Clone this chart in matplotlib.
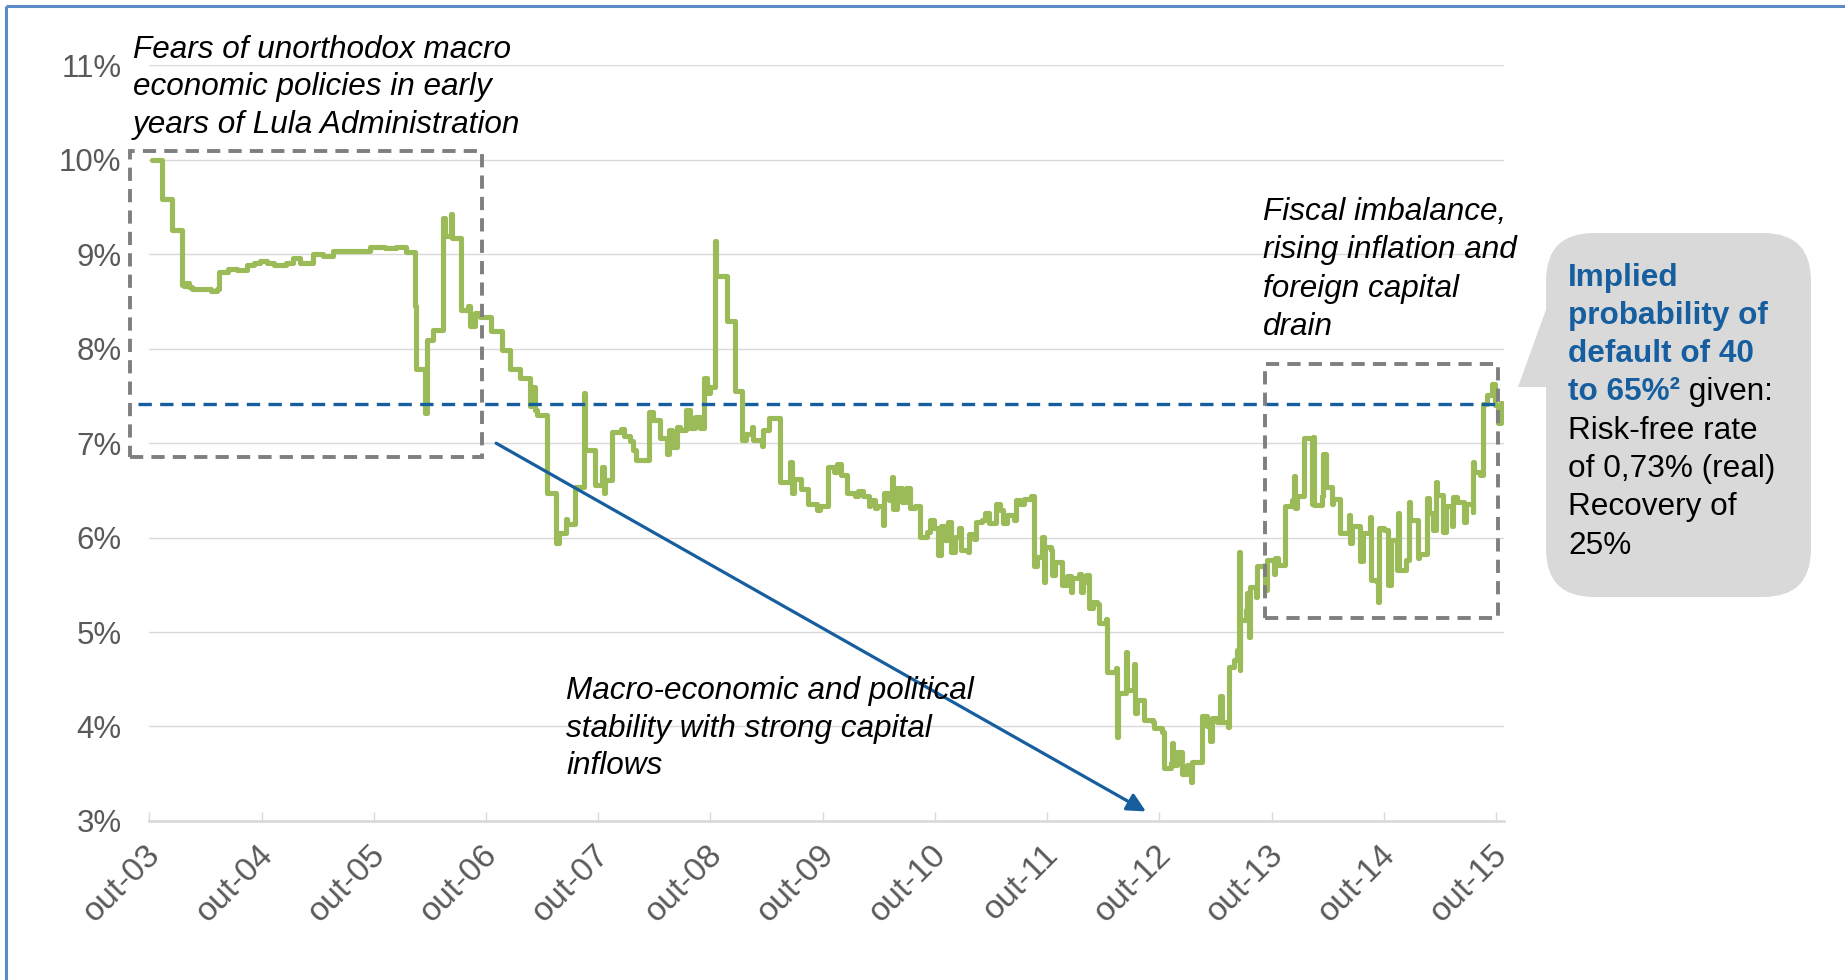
import matplotlib
matplotlib.use("Agg")
import matplotlib.pyplot as plt
import matplotlib.transforms as mtransforms
from matplotlib.patches import FancyBboxPatch, Polygon, Rectangle

plt.rcParams['font.family'] = ['Liberation Sans', 'DejaVu Sans']

# ---------------- data ----------------
tick_labels = ["out-03", "out-04", "out-05", "out-06", "out-07", "out-08", "out-09",
               "out-10", "out-11", "out-12", "out-13", "out-14", "out-15"]
tick_years = list(range(13))          # years since Oct-2003
y_ticks = [3, 4, 5, 6, 7, 8, 9, 10, 11]

# years since Oct-2003 (change points of the step series)
t_years = [
    0.02, 0.11, 0.20, 0.29, 0.31, 0.33, 0.35, 0.38, 0.55, 0.60, 0.62, 0.70, 0.78, 0.87, 0.93,
    0.99, 1.05, 1.11, 1.22, 1.28, 1.34, 1.46, 1.55, 1.64, 1.80, 1.97, 2.10, 2.20, 2.29, 2.37,
    2.375, 2.46, 2.47, 2.53, 2.62, 2.635, 2.69, 2.70, 2.78, 2.84, 2.86, 2.90, 2.95, 3.04, 3.14,
    3.21, 3.30, 3.39, 3.40, 3.44, 3.45, 3.54, 3.62, 3.65, 3.71, 3.72, 3.79, 3.87, 3.88, 3.97,
    4.03, 4.05, 4.06, 4.12, 4.20, 4.23, 4.28, 4.31, 4.34, 4.45, 4.49, 4.55, 4.61, 4.63, 4.66,
    4.70, 4.73, 4.78, 4.82, 4.86, 4.91, 4.94, 4.97, 5.00, 5.04, 5.05, 5.15, 5.22, 5.28, 5.32,
    5.37, 5.38, 5.46, 5.47, 5.52, 5.62, 5.71, 5.73, 5.74, 5.81, 5.87, 5.95, 5.98, 6.05, 6.10,
    6.13, 6.16, 6.22, 6.29, 6.31, 6.36, 6.41, 6.42, 6.47, 6.48, 6.54, 6.55, 6.59, 6.62, 6.63,
    6.66, 6.71, 6.74, 6.78, 6.82, 6.87, 6.93, 6.96, 6.99, 7.03, 7.05, 7.09, 7.12, 7.14, 7.18,
    7.21, 7.23, 7.29, 7.30, 7.35, 7.37, 7.42, 7.45, 7.48, 7.54, 7.58, 7.61, 7.64, 7.70, 7.72,
    7.76, 7.79, 7.86, 7.88, 7.91, 7.95, 7.97, 7.98, 8.03, 8.04, 8.07, 8.13, 8.18, 8.21, 8.22,
    8.28, 8.30, 8.32, 8.35, 8.37, 8.41, 8.44, 8.46, 8.52, 8.53, 8.61, 8.62, 8.63, 8.70, 8.71,
    8.77, 8.78, 8.80, 8.86, 8.94, 8.95, 9.02, 9.04, 9.10, 9.11, 9.12, 9.16, 9.20, 9.25, 9.28,
    9.29, 9.38, 9.42, 9.45, 9.47, 9.51, 9.54, 9.56, 9.61, 9.62, 9.66, 9.69, 9.71, 9.715, 9.72,
    9.77, 9.78, 9.80, 9.81, 9.86, 9.87, 9.94, 9.96, 10.02, 10.03, 10.06, 10.12, 10.18, 10.20, 10.21,
    10.23, 10.29, 10.36, 10.37, 10.375, 10.45, 10.46, 10.48, 10.54, 10.55, 10.61, 10.69, 10.70, 10.72, 10.79,
    10.81, 10.88, 10.885, 10.94, 10.95, 10.955, 11.00, 11.04, 11.06, 11.12, 11.13, 11.135, 11.20, 11.22, 11.23,
    11.30, 11.31, 11.38, 11.40, 11.44, 11.46, 11.47, 11.53, 11.55, 11.61, 11.62, 11.65, 11.71, 11.73, 11.79,
    11.795, 11.80, 11.86, 11.88, 11.92, 11.96, 11.99, 12.02, 12.04, 12.05,
]
# real yield (%)
spread_pct = [
    10.00, 9.59, 9.26, 8.68, 8.66, 8.70, 8.65, 8.63, 8.61, 8.63, 8.81, 8.84, 8.83, 8.89, 8.91,
    8.93, 8.91, 8.89, 8.91, 8.96, 8.91, 9.00, 8.98, 9.04, 9.04, 9.08, 9.07, 9.08, 9.02, 8.45,
    7.79, 7.32, 8.09, 8.20, 9.39, 9.19, 9.43, 9.17, 8.41, 8.45, 8.24, 8.38, 8.34, 8.19, 7.99,
    7.79, 7.69, 7.39, 7.60, 7.35, 7.30, 6.47, 5.94, 6.05, 6.20, 6.14, 6.54, 7.53, 6.93, 6.56,
    6.75, 6.47, 6.61, 7.12, 7.15, 7.08, 7.02, 6.93, 6.82, 7.33, 7.25, 7.05, 6.89, 7.14, 6.96,
    7.17, 7.14, 7.35, 7.16, 7.28, 7.16, 7.69, 7.53, 7.60, 9.14, 8.77, 8.29, 7.55, 7.03, 7.10,
    7.17, 7.03, 6.97, 7.14, 7.27, 6.59, 6.80, 6.47, 6.62, 6.51, 6.36, 6.29, 6.34, 6.75, 6.70,
    6.78, 6.66, 6.47, 6.44, 6.49, 6.44, 6.33, 6.40, 6.31, 6.33, 6.13, 6.47, 6.40, 6.64, 6.30,
    6.53, 6.38, 6.53, 6.31, 6.33, 6.01, 6.06, 6.19, 6.10, 5.82, 6.12, 5.98, 6.17, 5.85, 6.01,
    6.10, 5.87, 5.85, 6.04, 5.99, 6.17, 6.19, 6.26, 6.15, 6.36, 6.29, 6.15, 6.24, 6.19, 6.40,
    6.36, 6.41, 6.44, 5.70, 5.80, 6.01, 5.53, 5.90, 5.87, 5.60, 5.74, 5.50, 5.59, 5.42, 5.57,
    5.62, 5.42, 5.53, 5.60, 5.25, 5.32, 5.30, 5.10, 5.14, 4.58, 4.62, 3.89, 4.35, 4.79, 4.39,
    4.66, 4.14, 4.28, 4.07, 4.05, 3.98, 3.94, 3.56, 3.61, 3.83, 3.59, 3.73, 3.50, 3.59, 3.41,
    3.62, 4.11, 4.00, 3.85, 4.09, 4.05, 4.32, 4.05, 3.99, 4.63, 4.70, 4.81, 5.85, 4.60, 5.13,
    5.23, 5.41, 4.95, 5.48, 5.37, 5.70, 5.45, 5.76, 5.62, 5.78, 5.71, 6.33, 6.40, 6.65, 6.31,
    6.44, 7.05, 6.36, 7.07, 6.35, 6.44, 6.89, 6.54, 6.36, 6.41, 6.05, 6.24, 5.94, 6.12, 5.75,
    6.05, 6.22, 5.55, 5.53, 5.32, 6.10, 6.08, 5.50, 5.97, 5.66, 6.26, 5.66, 5.76, 6.38, 6.19,
    5.78, 5.83, 6.42, 6.26, 6.08, 6.59, 6.45, 6.06, 6.33, 6.12, 6.43, 6.38, 6.17, 6.36, 6.27,
    6.80, 6.70, 6.66, 7.41, 7.51, 7.63, 7.40, 7.21, 7.43, 7.43,
]

threshold_pct = 7.42                     # implied-default threshold

# ---------------- styling ----------------
W, H = 1845, 980
GREEN = "#9BBB59"
BLUE = "#165E9E"
GRID = "#D9D9D9"
TXT = "#595959"
BOXC = "#7F7F7F"

fig = plt.figure(figsize=(W / 100, H / 100), dpi=100)

x_left_px, x_right_px = 149.3, 1504.0
y_top_px, y_bot_px = 65.5, 820.9
ax = fig.add_axes([x_left_px / W, (H - y_bot_px) / H,
                   (x_right_px - x_left_px) / W, (y_bot_px - y_top_px) / H])
ax.set_xlim(0, 12.07)
ax.set_ylim(3, 11)

ax.plot(t_years, spread_pct, drawstyle="steps-post", color=GREEN, lw=3.7,
        solid_joinstyle="round", solid_capstyle="round", zorder=4)

ax.hlines(threshold_pct, -0.1, 12.02, colors=BLUE, lw=2.4,
          linestyles=(0, (4.0, 2.5)), clip_on=False, zorder=5)

for (x0, x1, y0, y1) in [(-0.17, 2.96, 6.85, 10.09), (9.94, 12.02, 5.15, 7.84)]:
    ax.add_patch(Rectangle((x0, y0), x1 - x0, y1 - y0, fill=False, ec=BOXC, lw=2.8,
                           ls=(0, (3.4, 2.1)), clip_on=False, zorder=6))

ax.annotate("", xy=(8.88, 3.10), xytext=(3.09, 7.0),
            arrowprops=dict(arrowstyle="-|>", color=BLUE, lw=2.3, mutation_scale=28,
                            shrinkA=0, shrinkB=0), zorder=6)

ax.set_yticks(y_ticks)
ax.set_yticklabels([f"{v}%" for v in y_ticks])
ax.yaxis.grid(True, color=GRID, lw=1.0)
ax.set_axisbelow(True)
ax.tick_params(axis="y", length=0, pad=20, labelsize=22.5, labelcolor=TXT)

ax.set_xticks(tick_years)
ax.set_xticklabels(tick_labels)
ax.tick_params(axis="x", direction="in", length=6.5, width=1.0, color=GRID,
               pad=21, labelsize=24, labelcolor=TXT)
offset = mtransforms.ScaledTranslation(6.5 / 100, 0, fig.dpi_scale_trans)
for lbl in ax.get_xticklabels():
    lbl.set_rotation(45)
    lbl.set_ha("right")
    lbl.set_va("center")
    lbl.set_rotation_mode("anchor")
    lbl.set_transform(lbl.get_transform() + offset)

for s in ["top", "right", "left"]:
    ax.spines[s].set_visible(False)
ax.spines["bottom"].set_color(GRID)
ax.spines["bottom"].set_linewidth(1.9)

# ---------------- overlay (pixel coordinates) ----------------
ov = fig.add_axes([0, 0, 1, 1], zorder=5)
ov.set_xlim(0, W)
ov.set_ylim(H, 0)
ov.axis("off")
ov.patch.set_alpha(0)

ov.plot([6, 6], [H, 6], color="#5B8AC6", lw=2.2, solid_capstyle="butt")
ov.plot([6, W], [6, 6], color="#5B8AC6", lw=2.2, solid_capstyle="butt")

FS = 22.7
def block(x, y0, lines, step=38.0, **kw):
    for i, s in enumerate(lines):
        ov.text(x, y0 + i * step, s, ha="left", va="center", fontsize=FS, **kw)

block(133, 49.5, ["Fears of unorthodox macro", "economic policies in early",
                  "years of Lula Administration"], step=37.7, style="italic", color="black")
block(1262.6, 212, ["Fiscal imbalance,", "rising inflation and",
                    "foreign capital", "drain"], step=38.4, style="italic", color="black")
block(566, 691, ["Macro-economic and political", "stability with strong capital",
                 "inflows"], step=37.7, style="italic", color="black")

# callout bubble
ov.add_patch(FancyBboxPatch((1546, 233), 265, 364,
                            boxstyle="round,pad=0,rounding_size=48",
                            fc="#D9D9D9", ec="none", zorder=1))
ov.add_patch(Polygon([(1556, 282), (1518, 387), (1556, 387)], closed=True,
                     fc="#D9D9D9", ec="none", zorder=1))

bx, by, bstep = 1568, 277.5, 38.3
blue_lines = ["Implied", "probability of", "default of 40"]
for i, s in enumerate(blue_lines):
    ov.text(bx, by + i * bstep, s, ha="left", va="center", fontsize=FS,
            fontweight="bold", color=BLUE, zorder=3)
t4 = ov.text(bx, by + 3 * bstep, "to 65%\u00b2", ha="left", va="center", fontsize=FS,
             fontweight="bold", color=BLUE, zorder=3)
ov.annotate(" given:", xy=(1, 0), xycoords=t4, ha="left", va="bottom",
            fontsize=FS, color="black", zorder=3)
black_lines = ["Risk-free rate", "of 0,73% (real)", "Recovery of", "25%"]
for i, s in enumerate(black_lines):
    ov.text(bx, by + (4 + i) * bstep, s, ha="left", va="center", fontsize=FS,
            color="black", zorder=3)

fig.savefig("out.png", dpi=100)
